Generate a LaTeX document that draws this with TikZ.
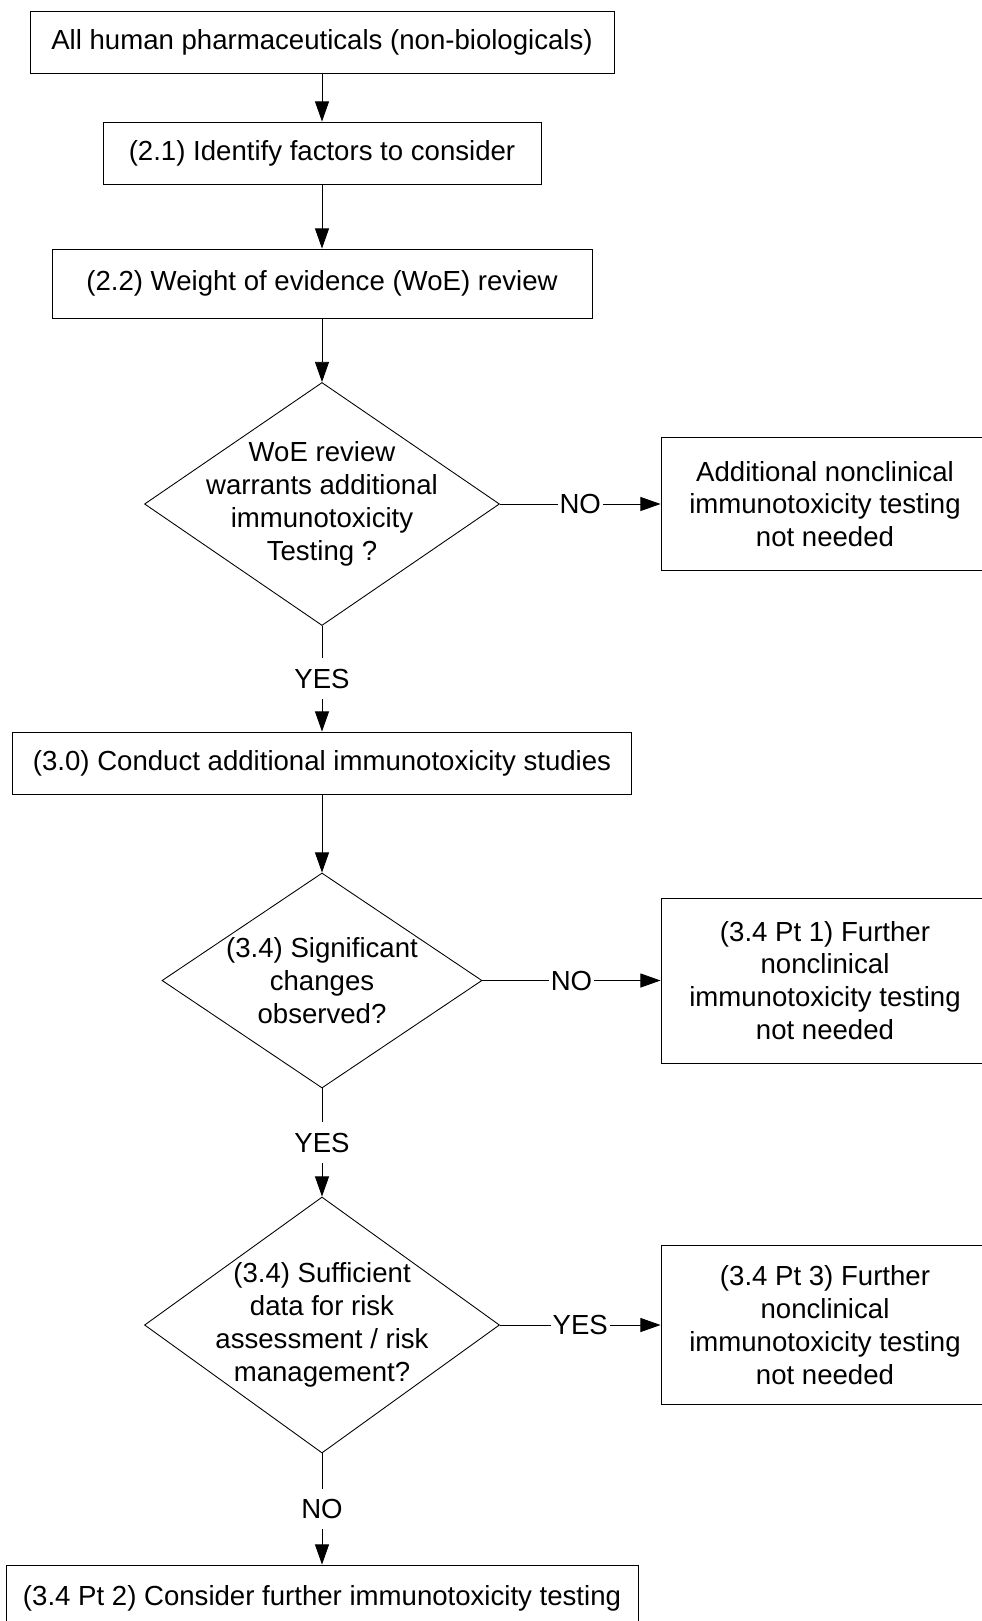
\documentclass[tikz,border=0pt]{standalone}
\usepackage{fontspec}
\setmainfont{Liberation Sans}
\usetikzlibrary{shapes.geometric}
\usetikzlibrary{arrows.meta}
\begin{document}
\begin{tikzpicture}[line width=0.5pt, every node/.style={font=\fontsize{15.7}{18.7}\selectfont, align=center},
box/.style={draw, rectangle, inner sep=0pt},
decision/.style={draw, diamond, inner sep=0pt},
answer/.style={fill=white, inner xsep=1pt, inner ysep=6pt},
flow/.style={-{Triangle[length=11.5pt,width=8pt]}}]
\useasboundingbox (0,0) rectangle (19.62,-32.42);

\node (b1) at (6.44,-0.84) [box, minimum width=11.68cm, minimum height=1.24cm] {All human pharmaceuticals (non-biologicals)};
\node (b2) at (6.44,-3.06) [box, minimum width=8.76cm, minimum height=1.24cm] {(2.1) Identify factors to consider};
\node (b3) at (6.44,-5.67) [box, minimum width=10.8cm, minimum height=1.38cm] {(2.2) Weight of evidence (WoE) review};

\node (d1) at (6.44,-10.08) [decision, minimum width=7.1cm, minimum height=4.86cm] {};
\node (d1t) at (d1) {WoE review\\warrants additional\\immunotoxicity\\Testing ?};
\node (r1) at (16.5,-10.08) [box, minimum width=6.56cm, minimum height=2.66cm] {Additional nonclinical\\immunotoxicity testing\\not needed};

\node (b4) at (6.44,-15.26) [box, minimum width=12.38cm, minimum height=1.24cm] {(3.0) Conduct additional immunotoxicity studies};

\node (d2) at (6.44,-19.61) [decision, minimum width=6.4cm, minimum height=4.3cm] {};
\node (d2t) at (d2) {(3.4) Significant\\changes\\observed?};
\node (r2) at (16.5,-19.61) [box, minimum width=6.56cm, minimum height=3.3cm] {(3.4 Pt 1) Further\\nonclinical\\immunotoxicity testing\\not needed};

\node (d3) at (6.44,-26.5) [decision, minimum width=7.1cm, minimum height=5.12cm] {};
\node (d3t) at (d3) {(3.4) Sufficient\\data for risk\\assessment / risk\\management?};
\node (r3) at (16.5,-26.5) [box, minimum width=6.56cm, minimum height=3.18cm] {(3.4 Pt 3) Further\\nonclinical\\immunotoxicity testing\\not needed};

\node (b5) at (6.44,-31.96) [box, minimum width=12.64cm, minimum height=1.32cm] {(3.4 Pt 2) Consider further immunotoxicity testing};

\draw[flow] (b1) -- (b2);
\draw[flow] (b2) -- (b3);
\draw[flow] (b3) -- (d1);
\draw[flow] (d1) -- node[answer] {NO} (r1);
\draw[flow] (d1) -- node[answer] {YES} (b4);
\draw[flow] (b4) -- (d2);
\draw[flow] (d2) -- node[answer] {NO} (r2);
\draw[flow] (d2) -- node[answer] {YES} (d3);
\draw[flow] (d3) -- node[answer] {YES} (r3);
\draw[flow] (d3) -- node[answer] {NO} (b5);

\end{tikzpicture}
\end{document}
